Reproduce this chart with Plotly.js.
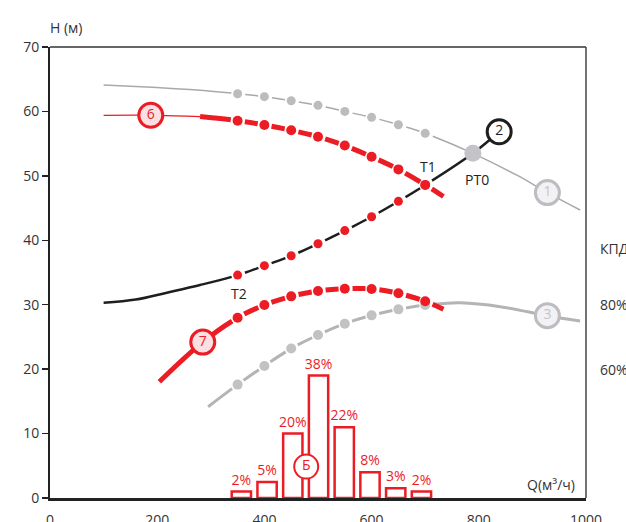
<!DOCTYPE html>
<html><head><meta charset="utf-8">
<script src="https://cdn.plot.ly/plotly-3.0.1.min.js"></script>
<style>html,body{margin:0;padding:0;background:#fff}#chart{width:626px;height:522px}</style>
</head><body><div id="chart"></div>
<script>
// ---- data ----
const Q_TICKS = [0,200,400,600,800,1000];
const H_TICKS = [0,10,20,30,40,50,60,70];
const EFF_TICKS = [60,80];
const EFF_LABELS = ['60%','80%'];

// curve 1 (grey head curve)
const Q1 = [100,200,280,350,400,450,500,550,600,650,700,789,871,928,989];
const H1 = [64.1,63.7,63.3,62.75,62.29,61.66,60.95,60.0,59.08,57.94,56.6,53.5,50.1,47.4,44.7];
// curve 6 (red head curve)
const Q6 = [100,200,280,350,400,450,500,550,600,650,700,734];
const H6 = [59.4,59.4,59.2,58.56,57.9,57.07,56.08,54.7,52.97,51.0,48.6,46.8];
// curve 2 (black system curve)
const Q2 = [100,160,218,280,350,400,450,500,550,600,650,700,789,838];
const H2 = [30.3,30.8,31.87,33.06,34.6,36.06,37.6,39.47,41.5,43.66,46.05,48.58,53.5,56.85];
// curve 3 (grey efficiency, in H units)
const Q3 = [295,350,400,450,500,550,600,650,700,734,765,840,928,989];
const H3 = [14.17,17.6,20.5,23.2,25.3,27.05,28.35,29.28,29.95,30.2,30.3,29.7,28.3,27.47];
// curve 7 (red efficiency, in H units)
const Q7 = [204,285,350,400,450,500,550,600,650,700,734];
const H7 = [18.05,24.2,27.98,29.95,31.3,32.13,32.49,32.44,31.77,30.53,29.28];
// dotted operating points
const DOT_Q = [350,400,450,500,550,600,650,700];
// histogram
const BIN_Q = [357,405,453,501,549,597,645,693];
const BIN_H = [1,2.5,10,19,11,4,1.5,1];
const BIN_LABELS = ['2%','5%','20%','38%','22%','8%','3%','2%'];
// curve labels
const LABELS = ['1','2','3','6','7','Б'];
const LABEL_Q = [928,838,928,188,285,478];
const LABEL_H = [47.4,56.85,28.3,59.4,24.2,4.87];
const PT0_Q = 789;

// ---- helpers ----
const M = {l:50,r:40,t:47,b:24};
const W = 626, HGT = 522;
const PX_Q = (W-M.l-M.r)/1000, PX_H = (HGT-M.t-M.b)/70;
const RED = '#ec1c24', BLACK = '#1e1e1e';
const FONT = 'Open Sans, sans-serif';

function pick(qs, hs, keys){ return keys.map(k => hs[qs.indexOf(k)]); }
function dashArray(qs, hs, dots, hg){
  const set = new Set(dots); const segs = [];
  const push = (on,len)=>{ if(len<=0) return; if(segs.length && segs[segs.length-1][0]===on) segs[segs.length-1][1]+=len; else segs.push([on,len]); };
  for(let i=0;i<qs.length-1;i++){
    const L = Math.hypot((qs[i+1]-qs[i])*PX_Q,(hs[i+1]-hs[i])*PX_H)*1.004;
    const a = set.has(qs[i])?hg:0, b = set.has(qs[i+1])?hg:0;
    push(false,a); push(true,L-a-b); push(false,b);
  }
  push(true,300);
  if(!segs[0][0]) segs.unshift([true,0]);
  return segs.map(s=>s[1].toFixed(2)+'px').join(',');
}
function line(x,y,color,width,dash){
  return {x,y,type:'scatter',mode:'lines',hoverinfo:'skip',
    line:{color,width,shape:'spline',smoothing:1,dash:dash||'solid'}};
}
function dots(x,y,color,size){
  return {x,y,type:'scatter',mode:'markers',hoverinfo:'skip',
    marker:{color,size,line:{width:0}}};
}

const q6a = Q6.filter(q=>q<=280), h6a = H6.slice(0,q6a.length);
const q6b = Q6.filter(q=>q>=280), h6b = H6.slice(Q6.length-q6b.length);

const labelFill = ['#f2f2f5','#ffffff','#f2f2f5','#fbe0e3','#fbe0e3','#ffffff'];
const labelLine = ['#bdbdc1',BLACK,'#bdbdc1',RED,RED,RED];
const labelText = ['#c4c4c8',BLACK,'#c4c4c8',RED,RED,RED];
const labelLW = [3,3,3,3,3,2];

const traces = [
  {type:'bar',x:BIN_Q,y:BIN_H,width:36,hoverinfo:'skip',
   marker:{color:'#ffffff',line:{color:RED,width:2.5}},
   text:BIN_LABELS,textposition:'outside',cliponaxis:false,constraintext:'none',
   textfont:{color:RED,size:14,family:FONT}},
  line(Q1,H1,'#a9a9ad',1.5,dashArray(Q1,H1,DOT_Q,7)),
  dots(DOT_Q,pick(Q1,H1,DOT_Q),'#bcbcbf',9),
  line(Q3,H3,'#b4b4b7',3,dashArray(Q3,H3,DOT_Q,7)),
  dots(DOT_Q,pick(Q3,H3,DOT_Q),'#c2c2c5',10),
  line(Q2,H2,BLACK,2.5,dashArray(Q2,H2,DOT_Q,7)),
  dots(DOT_Q,pick(Q2,H2,DOT_Q),RED,9),
  line(q6a,h6a,RED,1.2),
  line(q6b,h6b,RED,5,dashArray(q6b,h6b,DOT_Q,7)),
  dots(DOT_Q,pick(Q6,H6,DOT_Q),RED,10),
  line(Q7,H7,RED,5,dashArray(Q7,H7,DOT_Q,7)),
  dots(DOT_Q,pick(Q7,H7,DOT_Q),RED,10),
  dots([PT0_Q],pick(Q1,H1,[PT0_Q]),'#c4c4c8',17),
  {x:LABEL_Q,y:LABEL_H,type:'scatter',mode:'markers+text',hoverinfo:'skip',
   text:LABELS,textposition:'middle center',
   textfont:{color:labelText,size:14,family:FONT},
   marker:{size:24,color:labelFill,line:{color:labelLine,width:labelLW}}},
  {x:[0],y:[60],yaxis:'y2',type:'scatter',mode:'markers',marker:{opacity:0},hoverinfo:'skip'}
];

const t1 = pick(Q2,H2,[700])[0], t2 = pick(Q2,H2,[350])[0], p0 = pick(Q1,H1,[PT0_Q])[0];
const ann = (text,x,y,xs,ys)=>({text,x,y,xref:'x',yref:'y',showarrow:false,xshift:xs,yshift:ys,
  font:{family:FONT,size:14,color:'#222'}});
const rightAnn = (text,y,yref)=>({text,xref:'paper',yref,x:1.0225,y,xanchor:'left',yanchor:'middle',
  showarrow:false,font:{family:FONT,size:14,color:'#333'}});

const layout = {
  width:W,height:HGT,margin:{l:M.l,r:M.r,t:M.t,b:M.b,pad:0},
  paper_bgcolor:'#fff',plot_bgcolor:'#fff',showlegend:false,
  font:{family:FONT,size:14,color:'#333'},
  xaxis:{range:[0,1000],tickvals:Q_TICKS,showgrid:false,zeroline:false,showline:true,
    linecolor:'#222',linewidth:3,ticks:'outside',ticklen:7,tickcolor:'rgba(0,0,0,0)',
    tickfont:{size:14,color:'#333'}},
  yaxis:{range:[0,70],tickvals:H_TICKS,showgrid:false,zeroline:false,showline:true,
    linecolor:'#222',linewidth:2,ticks:'outside',ticklen:6,tickwidth:1.5,tickcolor:'#222',
    tickfont:{size:14,color:'#333'}},
  yaxis2:{overlaying:'y',side:'right',anchor:'x',range:[20,160],showticklabels:false,
    showgrid:false,zeroline:false,showline:false,ticks:''},
  shapes:[
    {type:'line',xref:'paper',yref:'paper',x0:0,x1:1,y0:1,y1:1,line:{color:'#333',width:1.5}},
    {type:'line',xref:'paper',yref:'paper',x0:1,x1:1,y0:0,y1:1,line:{color:'#444',width:1.5}}
  ],
  annotations:[
    {text:'H (м)',xref:'paper',yref:'paper',x:-0.004,y:1.044,xanchor:'left',yanchor:'middle',showarrow:false,
     font:{family:FONT,size:14,color:'#333'}},
    {text:'Q(м³/ч)',xref:'paper',yref:'paper',x:0.983,y:0.029,xanchor:'right',yanchor:'middle',showarrow:false,
     font:{family:FONT,size:14,color:'#333'}},
    rightAnn('КПД',38.75,'y'),
    ...EFF_TICKS.map((v,i)=>rightAnn(EFF_LABELS[i],v,'y2')),
    ann('T1',700,t1,3,19),
    ann('T2',350,t2,1,-18),
    ann('PT0',PT0_Q,p0,4,-26)
  ]
};
Plotly.newPlot('chart',traces,layout,{staticPlot:true,displayModeBar:false});
</script></body></html>
